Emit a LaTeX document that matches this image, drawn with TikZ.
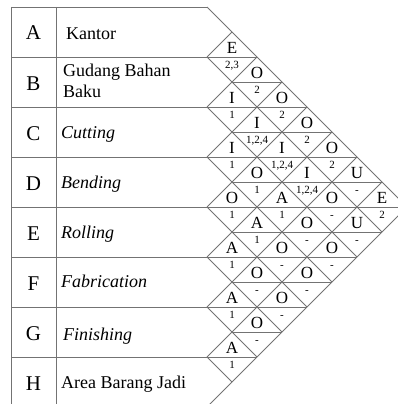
\documentclass[tikz,border=0pt]{standalone}
\usepackage{fontspec}
\setmainfont{Liberation Serif}
\usepackage{tikz}
\usetikzlibrary{positioning, calc}

\begin{document}
\begin{tikzpicture}[x=1pt, y=-1pt,
    grid/.style={draw=black!55, line width=0.75pt},
    code/.style={inner sep=0pt, anchor=base, font=\fontsize{21}{21}\selectfont},
    dept/.style={inner sep=0pt, anchor=base west, font=\fontsize{18}{21}\selectfont},
    rate/.style={inner sep=0pt, anchor=base, font=\fontsize{17}{17}\selectfont},
    why/.style={inner sep=0pt, anchor=base, font=\fontsize{11}{11}\selectfont}]

    \useasboundingbox (0,0) rectangle (398,404);
    \clip (0,0) rectangle (398,404);

    % --- TABLE (Left) ---
    \draw[grid] (11,7) -- (207,7);
    \draw[grid] (11,7) -- (11,407) -- (207,407);
    \draw[grid] (56,7) -- (56,407);

    % row lines run on into the chart
    \foreach \m [evaluate=\m as \yy using 57+50*\m] in {0,...,6}
        \draw[grid] (11,\yy) -- ({min(\yy+200,614-\yy)},\yy);
    \foreach \m [evaluate=\m as \yy using 82+50*\m] in {0,...,5}
        \draw[grid] (232,\yy) -- ({min(\yy+200,614-\yy)},\yy);

    % --- CHART DIAGONALS (Right) ---
    \foreach \m [evaluate=\m as \yy using 7+50*\m, evaluate=\m as \len using 200-25*\m] in {0,...,7}
        \draw[grid] (207,\yy) -- ++(\len,\len);
    \foreach \m [evaluate=\m as \yy using 7+50*\m, evaluate=\m as \len using 25*\m] in {1,...,8}
        \draw[grid] (207,\yy) -- ++(\len,-\len);

    % Codes
    \foreach \c [count=\k from 0] in {A,...,H}
        \node[code] (code\c) at (33.5,{40+50*\k}) {\c};

    % Departments
    \node[dept] (nameA) at (66,40) {Kantor};
    \node[dept, anchor=west, align=left] (nameB) at (63,80.5) {Gudang Bahan\\Baku};
    \node[dept] (nameC) at (61,138) {\textit{Cutting}};
    \node[dept] (nameD) at (61,188) {\textit{Bending}};
    \node[dept] (nameE) at (61,238) {\textit{Rolling}};
    \node[dept] (nameF) at (61,287) {\textit{Fabrication}};
    \node[dept] (nameG) at (63,340) {\textit{Finishing}};
    \node[dept] (nameH) at (61,388) {Area Barang Jadi};

    % Ratings and reasons
    \foreach \i/\j/\rating/\reason in {1/2/E/{2,3}, 1/3/O/2, 1/4/O/2, 1/5/O/2, 1/6/O/2, 1/7/U/-, 1/8/E/2,
        2/3/I/1, 2/4/I/{1,2,4}, 2/5/I/{1,2,4}, 2/6/I/{1,2,4}, 2/7/O/-, 2/8/U/-,
        3/4/I/1, 3/5/O/1, 3/6/A/1, 3/7/O/-, 3/8/O/-,
        4/5/O/1, 4/6/A/1, 4/7/O/-, 4/8/O/-,
        5/6/A/1, 5/7/O/-, 5/8/O/-,
        6/7/A/1, 6/8/O/-,
        7/8/A/1} {
        \node[rate] (rate\i\j) at ({207+25*(\j-\i)},{-22+25*(\i+\j)}) {\rating};
        \node[why] (why\i\j) at ({207+25*(\j-\i)},{-6.5+25*(\i+\j)}) {\reason};
    }

\end{tikzpicture}
\end{document}
